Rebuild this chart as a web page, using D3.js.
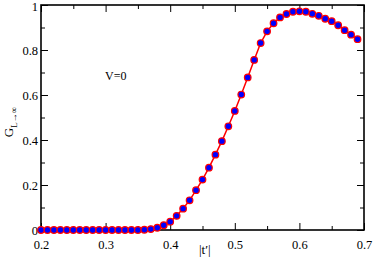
<!DOCTYPE html>
<html>
<head>
<meta charset="utf-8">
<script src="https://cdn.jsdelivr.net/npm/d3@7"></script>
<style>
  body { margin: 0; background: #fff; }
  text { font-family: "Liberation Serif", "DejaVu Serif", serif; }
</style>
</head>
<body>
<svg id="plot1" width="374" height="260"></svg>
<script>
// |t'| values and G values
var tValues = [0.20,0.21,0.22,0.23,0.24,0.25,0.26,0.27,0.28,0.29,
               0.30,0.31,0.32,0.33,0.34,0.35,0.36,0.37,0.38,0.39,
               0.40,0.41,0.42,0.43,0.44,0.45,0.46,0.47,0.48,0.49,
               0.50,0.51,0.52,0.53,0.54,0.55,0.56,0.57,0.58,0.59,
               0.60,0.61,0.62,0.63,0.64,0.65,0.66,0.67,0.68,0.69];
var gValues = [0,0,0,0,0,0,0,0,0,0,
               0,0,0,0,0,0,0.001,0.004,0.01,0.021,
               0.037,0.063,0.095,0.132,0.177,0.224,0.277,0.335,0.395,0.461,
               0.529,0.602,0.678,0.756,0.831,0.883,0.919,0.945,0.960,0.970,
               0.972,0.970,0.961,0.952,0.939,0.928,0.910,0.888,0.868,0.848];
var xTicks = [0.2,0.3,0.4,0.5,0.6,0.7];
var yTicks = [0,0.2,0.4,0.6,0.8,1];
var xTickLabels = ["0.2","0.3","0.4","0.5","0.6","0.7"];
var yTickLabels = ["0","0.2","0.4","0.6","0.8","1"];

var svg = d3.select("#plot1"),
    margin = {top: 5, right: 10, bottom: 30, left: 41},
    width = +svg.attr("width") - margin.left - margin.right,
    height = +svg.attr("height") - margin.top - margin.bottom;

var x = d3.scaleLinear().domain([0.2, 0.7]).range([0, width]),
    y = d3.scaleLinear().domain([0, 1]).range([height, 0]);

var g = svg.append("g")
    .attr("transform", "translate(" + margin.left + "," + margin.top + ")");

var data = tValues.map(function(t, i){ return {t: t, v: gValues[i]}; });

// inward ticks on all four sides, minor ones in between
var xMinor = d3.range(0.25, 0.7, 0.1);
var yMinor = d3.range(0.1, 1, 0.2);

function tickAxis(axis, ticks, size) {
    return axis.tickValues(ticks).tickSize(size).tickFormat("");
}

g.append("g").attr("transform", "translate(0," + height + ")")
    .call(d3.axisBottom(x).tickValues(xTicks).tickSize(-7).tickPadding(10)
        .tickFormat(function(d,i){ return xTickLabels[i]; }));
g.append("g").attr("transform", "translate(0," + height + ")")
    .call(tickAxis(d3.axisBottom(x), xMinor, -4));
g.append("g").call(tickAxis(d3.axisTop(x), xTicks, -7));
g.append("g").call(tickAxis(d3.axisTop(x), xMinor, -4));

g.append("g")
    .call(d3.axisLeft(y).tickValues(yTicks).tickSize(-7).tickPadding(3)
        .tickFormat(function(d,i){ return yTickLabels[i]; }));
g.append("g").call(tickAxis(d3.axisLeft(y), yMinor, -4));
g.append("g").attr("transform", "translate(" + width + ",0)")
    .call(tickAxis(d3.axisRight(y), yTicks, -7));
g.append("g").attr("transform", "translate(" + width + ",0)")
    .call(tickAxis(d3.axisRight(y), yMinor, -4));

g.selectAll(".domain").remove();
g.selectAll(".tick line").attr("stroke", "#000").attr("stroke-width", 1);
g.selectAll(".tick text").attr("fill", "#000").attr("font-family", null)
    .style("font-size", "12.5px")
    .style("font-family", "'Liberation Serif', 'DejaVu Serif', serif");
// the "1" sits at the top edge; nudge it down a touch so it stays inside
g.selectAll(".tick text").filter(function(d){ return d === 1; }).attr("dy", "0.45em");

g.append("rect")
    .attr("width", width).attr("height", height)
    .attr("fill", "none").attr("stroke", "#000").attr("stroke-width", 1.6);

// curve
g.append("path")
    .datum(data)
    .attr("fill", "none")
    .attr("stroke", "#ff0000")
    .attr("stroke-width", 1.5)
    .attr("d", d3.line().x(function(d){ return x(d.t); }).y(function(d){ return y(d.v); }));

g.selectAll(".dot")
    .data(data)
    .enter()
    .append("circle")
    .attr("class", "dot")
    .attr("cx", function(d){ return x(d.t); })
    .attr("cy", function(d){ return y(d.v); })
    .attr("r", 3.3)
    .attr("fill", "#0000ff")
    .attr("stroke", "#ff0000")
    .attr("stroke-width", 1.2);

// labels
svg.append("text")
    .attr("x", 105).attr("y", 80)
    .style("font-size", "12px")
    .text("V=0");

svg.append("text")
    .attr("x", 199).attr("y", 254)
    .style("font-size", "13px")
    .text("|t\u2032|");

var yl = svg.append("text")
    .attr("transform", "translate(13,122) rotate(-90)")
    .attr("text-anchor", "middle")
    .style("font-size", "13px");
yl.append("tspan").text("G");
yl.append("tspan").attr("dy", 4).style("font-size", "9px").text("L\u2192\u221e");
</script>
</body>
</html>
